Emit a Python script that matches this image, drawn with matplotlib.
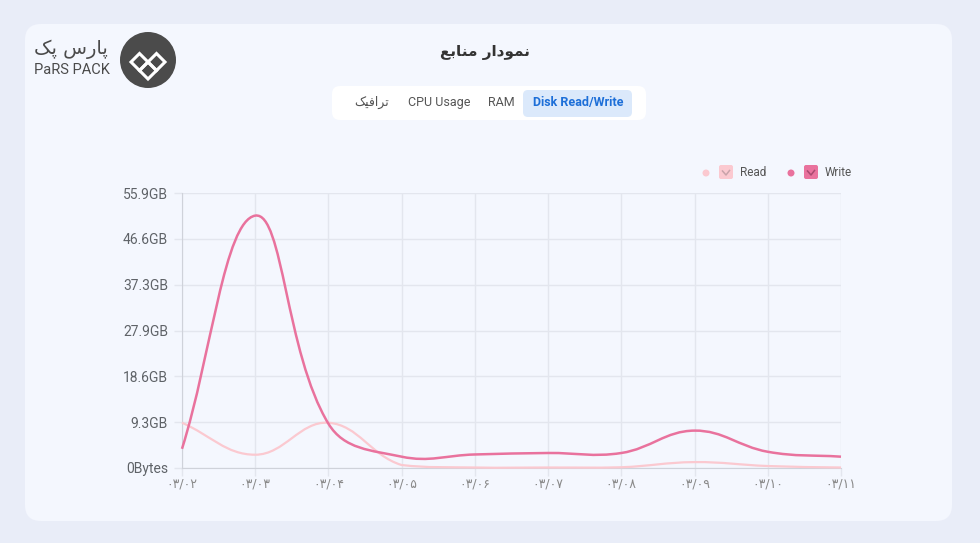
import numpy as np
import matplotlib
matplotlib.use("Agg")
import matplotlib.pyplot as plt
from matplotlib.patches import FancyBboxPatch, Circle, Polygon, PathPatch
from matplotlib.path import Path

plt.rcParams['font.family'] = ['Roboto', 'DejaVu Sans']

# data (GB)
dates = ["۰۳/۰۲", "۰۳/۰۳", "۰۳/۰۴", "۰۳/۰۵", "۰۳/۰۶",
         "۰۳/۰۷", "۰۳/۰۸", "۰۳/۰۹", "۰۳/۱۰", "۰۳/۱۱"]
read_gb = [9.2, 2.7, 9.2, 0.6, 0.1, 0.1, 0.15, 1.2, 0.4, 0.1]
write_gb = [3.9, 51.3, 9.0, 2.3, 2.75, 3.05, 3.05, 7.6, 3.3, 2.3]
y_labels = ["0Bytes", "9.3GB", "18.6GB", "27.9GB", "37.3GB", "46.6GB", "55.9GB"]
y_max = 55.9

# persian strings, pre-shaped (visual order)
title_fa = "\uFECA\uFE91\uFE8E\uFEE8\uFEE3 \uFEAD\uFE8D\uFEA9\uFEEE\uFEE4\uFEE7"
traffic_fa = "\uFB8F\uFBFF\uFED3\uFE8D\uFEAE\uFE97"
logo_fa = "\uFB8F\uFB58 \uFEB1\uFEAD\uFE8E\uFB58"
tabs = [(372, traffic_fa), (439, "CPU Usage"), (501, "RAM")]

read_color = "#fbc9d0"
write_color = "#e9729d"
grid_color = "#e3e6ee"
W, H = 980, 543


def spline(ax, xs, ys, t=0.4):
    # chart.js style bezier through the points, computed in pixel space
    pts = ax.transData.transform(np.column_stack([xs, ys]))
    lo = ax.transData.transform((0, 0))[1]
    hi = ax.transData.transform((0, y_max))[1]
    n = len(pts)
    cp_in, cp_out = [], []
    for i in range(n):
        prev = pts[max(i - 1, 0)]
        cur = pts[i]
        nxt = pts[min(i + 1, n - 1)]
        d01 = np.hypot(*(cur - prev))
        d12 = np.hypot(*(nxt - cur))
        tot = d01 + d12
        s01 = d01 / tot if tot else 0
        s12 = d12 / tot if tot else 0
        a = cur - t * s01 * (nxt - prev)
        b = cur + t * s12 * (nxt - prev)
        a[1] = np.clip(a[1], lo, hi)
        b[1] = np.clip(b[1], lo, hi)
        cp_in.append(a)
        cp_out.append(b)
    verts = [pts[0]]
    codes = [Path.MOVETO]
    for i in range(n - 1):
        verts += [cp_out[i], cp_in[i + 1], pts[i + 1]]
        codes += [Path.CURVE4] * 3
    verts = ax.transData.inverted().transform(np.array(verts))
    return Path(verts, codes)


fig = plt.figure(figsize=(W / 100, H / 100), dpi=100)
fig.patch.set_facecolor("#e9edf8")

bg = fig.add_axes([0, 0, 1, 1], zorder=0)
bg.set_xlim(0, W)
bg.set_ylim(H, 0)
bg.axis("off")

bg.add_patch(FancyBboxPatch((25, 24), 927, 497, boxstyle="round,pad=0,rounding_size=16",
                            fc="#f4f7fe", ec="none"))

# logo
bg.add_patch(Circle((148, 60), 28, fc="#4b4b4b", ec="none"))
h = 8.5
cx, cy = 148, 62
for dx, dy in [(-h, 0), (h, 0), (0, h)]:
    x0, y0 = cx + dx, cy + dy
    bg.add_patch(Polygon([(x0 - h, y0), (x0, y0 - h), (x0 + h, y0), (x0, y0 + h)],
                         closed=True, fc="none", ec="white", lw=2.2, joinstyle="miter"))
bg.text(71, 49, logo_fa, family=['DejaVu Sans'], fontsize=14,
        color="#4b4b4b", ha="center", va="center")
bg.text(72, 70, "PaRS PACK", fontsize=10.5, color="#4b4b4b", ha="center", va="center")

bg.text(485, 52, title_fa, family=['DejaVu Sans'], fontsize=11, fontweight="bold",
        color="#333333", ha="center", va="center")

# tabs
bg.add_patch(FancyBboxPatch((332, 86), 314, 34, boxstyle="round,pad=0,rounding_size=8",
                            fc="white", ec="none"))
bg.add_patch(FancyBboxPatch((523, 90), 109, 27, boxstyle="round,pad=0,rounding_size=5",
                            fc="#dbe9fb", ec="none"))
bg.text(578, 102.5, "Disk Read/Write", fontsize=9, fontweight="bold", color="#1d6fd8",
        ha="center", va="center")
for x, label in tabs:
    bg.text(x, 102.5, label, fontsize=9, color="#555555", ha="center", va="center")

# legend
for dot_x, box_x, txt_x, label, fc, chk in [
        (706, 726, 740, "Read", read_color, "#c9a3aa"),
        (791, 811, 825, "Write", write_color, "#a94a70")]:
    bg.add_patch(Circle((dot_x, 173), 3.5, fc=fc, ec="none"))
    bg.add_patch(FancyBboxPatch((box_x - 7, 165), 14, 14, boxstyle="round,pad=0,rounding_size=2",
                                fc=fc, ec="none"))
    bg.plot([box_x - 3.5, box_x, box_x + 3.5], [171, 175, 170.5], color=chk, lw=1.1)
    bg.text(txt_x, 173, label, fontsize=8.5, color="#555555", ha="left", va="center")

# chart
ax = fig.add_axes([182 / W, (H - 468) / H, (841 - 182) / W, (468 - 193) / H], zorder=1)
ax.set_facecolor("none")
x = np.arange(len(dates))
ax.set_xlim(0, len(dates) - 1)
ax.set_ylim(0, y_max)

ax.set_yticks([y_max * i / 6 for i in range(len(y_labels))])
ax.set_yticklabels(y_labels)
ax.set_xticks(x)
ax.set_xticklabels(dates, family=['DejaVu Sans'])
ax.grid(True, color=grid_color, lw=1)
ax.set_axisbelow(True)
ax.tick_params(axis="y", length=6, width=1, color=grid_color, pad=4, labelsize=10,
               labelcolor="#5f6368")
ax.tick_params(axis="x", length=6, width=1, color=grid_color, pad=1, labelsize=9,
               labelcolor="#8a8a8a")
for side in ["top", "right"]:
    ax.spines[side].set_visible(False)
for side in ["left", "bottom"]:
    ax.spines[side].set_color("#cfd2da")

ax.add_patch(PathPatch(spline(ax, x, read_gb), fc="none", ec=read_color, lw=1.6,
                       clip_on=False, zorder=3))
ax.add_patch(PathPatch(spline(ax, x, write_gb), fc="none", ec=write_color, lw=1.8,
                       clip_on=False, zorder=4))

fig.savefig("out.png", dpi=100, facecolor=fig.get_facecolor())
